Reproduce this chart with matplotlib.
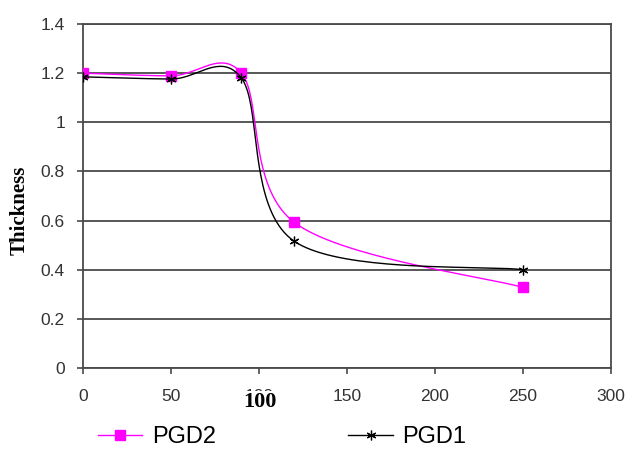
import numpy as np
import matplotlib
matplotlib.use("Agg")
import matplotlib.pyplot as plt
from matplotlib.lines import Line2D

# Measurements
x_vals = [0, 50, 90, 120, 250]
pgd2 = [1.20, 1.189, 1.20, 0.593, 0.328]
pgd1 = [1.185, 1.176, 1.18, 0.516, 0.40]
y_ticks = [0, 0.2, 0.4, 0.6, 0.8, 1, 1.2, 1.4]
y_tick_labels = ["0", "0.2", "0.4", "0.6", "0.8", "1", "1.2", "1.4"]
x_ticks = [0, 50, 100, 150, 200, 250, 300]
x_tick_labels = ["0", "50", "100", "150", "200", "250", "300"]

W, H = 625, 450
fig = plt.figure(figsize=(W / 100, H / 100), dpi=100)
L, R, T, B = 83, 611, 24, 368
ax = fig.add_axes([L / W, 1 - B / H, (R - L) / W, (B - T) / H])
ax.set_xlim(0, 300)
ax.set_ylim(0, 1.4)

# pixel scale per data unit, used so the smoothing is done in screen space
sx = (R - L) / 300.0
sy = (B - T) / 1.4


def smooth_curve(xs, ys, n=40):
    """Catmull-Rom style Bezier smoothing through the given points."""
    P = np.column_stack([np.asarray(xs, float) * sx, np.asarray(ys, float) * sy])
    out = []
    t = np.linspace(0, 1, n)[:, None]
    for i in range(len(P) - 1):
        p0 = P[i - 1] if i > 0 else P[i]
        p1, p2 = P[i], P[i + 1]
        p3 = P[i + 2] if i + 2 < len(P) else P[i + 1]
        c1 = p1 + (p2 - p0) / 6.0
        c2 = p2 - (p3 - p1) / 6.0
        seg = ((1 - t) ** 3) * p1 + 3 * ((1 - t) ** 2) * t * c1 + 3 * (1 - t) * t ** 2 * c2 + t ** 3 * p2
        out.append(seg if i == 0 else seg[1:])
    pts = np.vstack(out)
    return pts[:, 0] / sx, pts[:, 1] / sy


grid_col = "#4a4a4a"
for yv in y_ticks:
    ax.axhline(yv, color=grid_col, lw=1.3, zorder=1)

magenta = "#ff00ff"
cx, cy = smooth_curve(x_vals, pgd2)
ax.plot(cx, cy, color=magenta, lw=1.0, zorder=3)
ax.plot(x_vals, pgd2, ls="none", marker="s", ms=6.5, color=magenta, zorder=4)

cx1, cy1 = smooth_curve(x_vals, pgd1)
ax.plot(cx1, cy1, color="black", lw=1.0, zorder=5)
ax.plot(x_vals, pgd1, ls="none", marker=(6, 2, 0), ms=7, mew=0.9, color="black", zorder=6)

for s in ax.spines.values():
    s.set_color(grid_col)
    s.set_linewidth(1.3)

tick_font = dict(family="Liberation Sans", size=12.5)
ax.set_xticks(x_ticks)
ax.set_xticklabels(x_tick_labels, fontdict=tick_font, color="#333333")
ax.set_yticks(y_ticks)
ax.set_yticklabels(y_tick_labels, fontdict=tick_font, color="#333333")
ax.tick_params(axis="x", direction="out", length=4, width=1.2, color=grid_col, pad=11)
ax.tick_params(axis="y", direction="out", length=4, width=1.2, color=grid_col, pad=9)

fig.text(20 / W, 1 - 210 / H, "Thickness", rotation=90, ha="center", va="center",
         family="Liberation Serif", weight="bold", size=15)
fig.text(260 / W, 1 - 402 / H, "100", ha="center", va="center",
         family="Liberation Serif", weight="bold", size=16,
         bbox=dict(facecolor="white", edgecolor="none", pad=0.5), zorder=10)

h2 = Line2D([], [], color=magenta, lw=1.0, marker="s", ms=6.5)
h1 = Line2D([], [], color="black", lw=1.0, marker=(6, 2, 0), ms=7, mew=0.9)
fig.legend([h2, h1], ["PGD2", "PGD1"], loc="center", bbox_to_anchor=(282 / W, 1 - 437 / H),
           ncol=2, frameon=False, handlelength=1.9, handletextpad=0.4, columnspacing=5.6,
           prop=dict(family="Liberation Sans", size=17))

fig.savefig("out.png", dpi=100, facecolor="white")
